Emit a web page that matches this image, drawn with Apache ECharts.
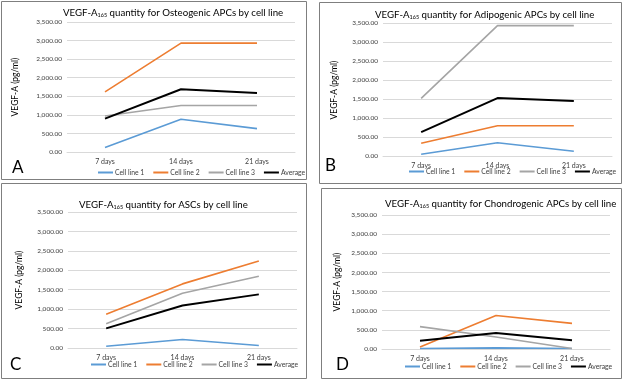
<!DOCTYPE html>
<html><head><meta charset="utf-8">
<script src="https://cdn.jsdelivr.net/npm/echarts@6/dist/echarts.min.js"></script>
<style>html,body{margin:0;padding:0;background:#fff}#c{width:625px;height:382px}</style>
</head><body><div id="c"></div>
<script>
const categories = ['7 days', '14 days', '21 days'];
const seriesNames = ['Cell line 1', 'Cell line 2', 'Cell line 3', 'Average'];
const yTicks = [0, 500, 1000, 1500, 2000, 2500, 3000, 3500];

const osteoCell1 = [120, 880, 630];
const osteoCell2 = [1620, 2930, 2930];
const osteoCell3 = [970, 1250, 1250];
const osteoAvg = [900, 1690, 1590];

const adipoCell1 = [45, 350, 125];
const adipoCell2 = [335, 795, 795];
const adipoCell3 = [1515, 3430, 3430];
const adipoAvg = [630, 1525, 1450];

const ascCell1 = [45, 220, 65];
const ascCell2 = [870, 1650, 2240];
const ascCell3 = [625, 1410, 1845];
const ascAvg = [505, 1095, 1380];

const chondroCell1 = [15, 30, 15];
const chondroCell2 = [50, 875, 670];
const chondroCell3 = [585, 315, 15];
const chondroAvg = [215, 420, 230];

const titleRest = [
  'quantity for Osteogenic APCs by cell line',
  'quantity for Adipogenic APCs by cell line',
  'quantity for ASCs by cell line',
  'quantity for Chondrogenic APCs by cell line'
];
const panelLetters = ['A', 'B', 'C', 'D'];
const panelData = [
  [osteoCell1, osteoCell2, osteoCell3, osteoAvg],
  [adipoCell1, adipoCell2, adipoCell3, adipoAvg],
  [ascCell1, ascCell2, ascCell3, ascAvg],
  [chondroCell1, chondroCell2, chondroCell3, chondroAvg]
];

// layout (positions only)
const grids = [
  {left: 67, top: 22, width: 228, height: 130},
  {left: 383, top: 23, width: 229, height: 133},
  {left: 68, top: 212, width: 229, height: 136},
  {left: 382, top: 215, width: 228, height: 134}
];
const titlePos = [[63, 7], [375, 9], [79, 199], [385, 198]];
const legendPos = [[98, 169], [409, 168], [91, 361], [405, 363]];
const namePos = [[15, 87], [334, 90], [19, 280], [337, 282]];
const letterPos = [[12, 168], [325, 166], [10, 365], [336, 365]];
const boxes = [[1, 1, 305, 178], [319, 2, 302, 181], [1, 183, 305, 195], [321, 188, 300, 190]];

const colors = ['#5b9bd5', '#ed7d31', '#a5a5a5', '#000000'];
const FONT = 'Lato, "Open Sans", sans-serif';

const option = {
  animation: false,
  color: colors,
  textStyle: {fontFamily: FONT},
  title: titleRest.map((t, i) => ({
    text: 'VEGF-A{sub|165} ' + t,
    left: titlePos[i][0], top: titlePos[i][1], padding: 0,
    textStyle: {
      fontFamily: FONT, fontSize: 9.7, fontWeight: 'normal', color: '#000',
      rich: {sub: {fontSize: 5.5, fontFamily: FONT, verticalAlign: 'bottom', padding: [5, 0, 0, 0], color: '#000'}}
    }
  })),
  legend: legendPos.map(p => ({
    data: seriesNames,
    left: p[0], top: p[1], width: 260, orient: 'horizontal',
    itemWidth: 15, itemHeight: 2, itemGap: 9, icon: 'rect', padding: 0,
    textStyle: {fontSize: 6.8, color: '#404040', fontFamily: FONT, padding: [0, 0, 0, -3]}
  })),
  grid: grids.map(g => Object.assign({containLabel: false}, g)),
  xAxis: grids.map((g, i) => ({
    type: 'category', gridIndex: i, data: categories, boundaryGap: true,
    axisLine: {lineStyle: {color: '#d9d9d9'}},
    axisTick: {show: false},
    axisLabel: {fontSize: 7, color: '#404040', margin: 6, fontFamily: FONT}
  })),
  yAxis: grids.map((g, i) => ({
    type: 'value', gridIndex: i, min: yTicks[0], max: yTicks[yTicks.length - 1], interval: yTicks[1] - yTicks[0],
    axisLine: {show: false}, axisTick: {show: false},
    splitLine: {lineStyle: {color: '#d9d9d9'}},
    axisLabel: {fontSize: 6.5, color: '#404040', margin: 5, fontFamily: FONT,
      formatter: v => v.toLocaleString('en-US', {minimumFractionDigits: 2, maximumFractionDigits: 2})}
  })),
  series: [],
  graphic: []
};

panelData.forEach((arr, p) => {
  arr.forEach((vals, s) => {
    option.series.push({
      type: 'line', name: seriesNames[s], xAxisIndex: p, yAxisIndex: p,
      data: vals, symbol: 'none', smooth: false,
      lineStyle: {width: s === 3 ? 2 : 1.6, color: colors[s]},
      itemStyle: {color: colors[s]},
      z: s === 3 ? 3 : 2
    });
  });
});

boxes.forEach(b => option.graphic.push({
  type: 'rect', shape: {x: b[0] + 0.5, y: b[1] + 0.5, width: b[2], height: b[3]},
  style: {fill: 'none', stroke: '#7f7f7f', lineWidth: 1}, silent: true
}));
letterPos.forEach((p, i) => option.graphic.push({
  type: 'text', x: p[0], y: p[1],
  style: {text: panelLetters[i], fontSize: 17, fontFamily: FONT, fill: '#000', verticalAlign: 'middle', align: 'left'}
}));
namePos.forEach((p, i) => option.graphic.push({
  type: 'text', x: p[0], y: p[1], rotation: Math.PI / 2,
  style: {text: 'VEGF-A (pg/ml)', fontSize: 8.5, fontFamily: FONT, fill: '#000', verticalAlign: 'middle', align: 'center'}
}));

const chart = echarts.init(document.getElementById('c'), null, {renderer: 'canvas'});
chart.setOption(option);
</script></body></html>
